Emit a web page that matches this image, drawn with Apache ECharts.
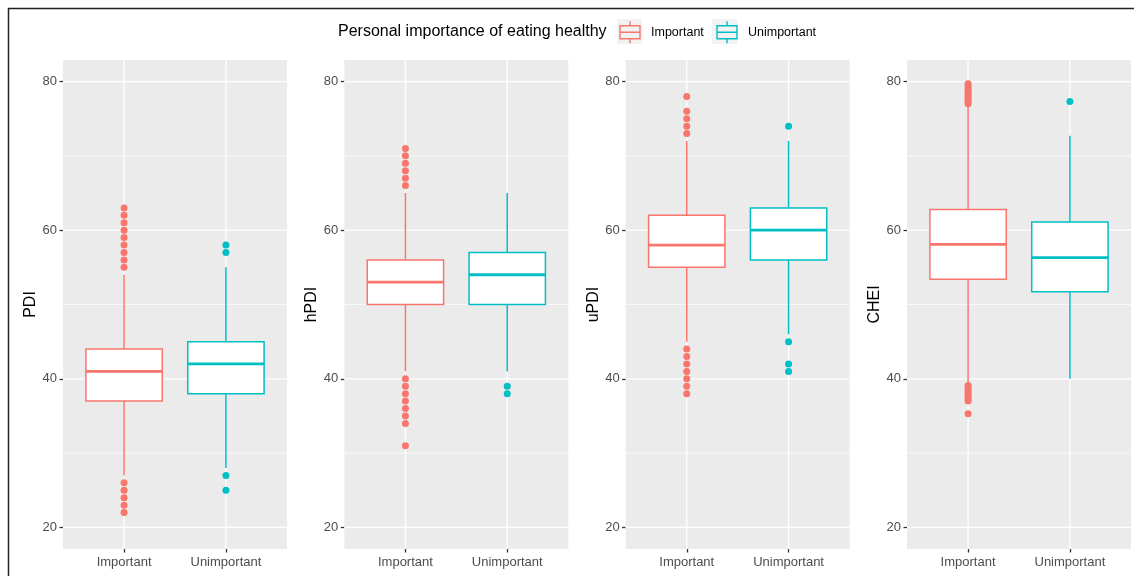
<!DOCTYPE html>
<html lang="en" style="height: 100%">
<head>
    <meta charset="utf-8">
    <script src="https://cdn.jsdelivr.net/npm/echarts/dist/echarts.min.js"></script>
</head>
<body style="height: 100%; margin: 0; background: #fff">
    <div id="container" style="width: 1134px; height: 576px;"></div>
    <script>
        var groups = ['Important', 'Unimportant'];
        var indexNames = ['PDI', 'hPDI', 'uPDI', 'CHEI'];
        var yMajorTicks = [20, 40, 60, 80];
        var yMinorTicks = [30, 50, 70];

        // lower whisker, Q1, median, Q3, upper whisker
        var importantBoxes = [
            [27, 37, 41, 44, 54],
            [41, 50, 53, 56, 65],
            [45, 55, 58, 62, 72],
            [39.5, 53.4, 58.1, 62.8, 76.8]
        ];
        var unimportantBoxes = [
            [28, 38, 42, 45, 55],
            [41, 50, 54, 57, 65],
            [46, 56, 60, 63, 72],
            [40, 51.7, 56.3, 61.1, 72.7]
        ];
        var importantOutliers = [
            [63, 62, 61, 60, 59, 58, 57, 56, 55, 26, 25, 24, 23, 22],
            [71, 70, 69, 68, 67, 66, 40, 39, 38, 37, 36, 35, 34, 31],
            [78, 76, 75, 74, 73, 44, 43, 42, 41, 40, 39, 38],
            [79.7, 79.4, 79.1, 78.8, 78.5, 78.2, 77.9, 77.6, 77.3, 77.0,
             39.1, 38.8, 38.5, 38.2, 37.9, 37.6, 37.3, 37.0, 35.3]
        ];
        var unimportantOutliers = [
            [58, 57, 27, 25],
            [39, 38],
            [74, 45, 42, 41],
            [77.3]
        ];

        var colors = ['#F8766D', '#00BFC4'];
        var font = 'Liberation Sans, Arial, sans-serif';
        var boxWidth = 0.75;

        function renderBox(params, api) {
            var x = api.value(0);
            var lo = api.coord([x, api.value(1)]);
            var q1 = api.coord([x, api.value(2)]);
            var med = api.coord([x, api.value(3)]);
            var q3 = api.coord([x, api.value(4)]);
            var hi = api.coord([x, api.value(5)]);
            var half = api.size([boxWidth, 0])[0] / 2;
            var color = api.visual('color');
            return {
                type: 'group',
                children: [
                    { type: 'line', shape: { x1: hi[0], y1: hi[1], x2: q3[0], y2: q3[1] }, style: { stroke: color, lineWidth: 1.5 } },
                    { type: 'line', shape: { x1: lo[0], y1: lo[1], x2: q1[0], y2: q1[1] }, style: { stroke: color, lineWidth: 1.5 } },
                    { type: 'rect', shape: { x: med[0] - half, y: q3[1], width: half * 2, height: q1[1] - q3[1] }, style: { fill: '#fff', stroke: color, lineWidth: 1.5 } },
                    { type: 'line', shape: { x1: med[0] - half, y1: med[1], x2: med[0] + half, y2: med[1] }, style: { stroke: color, lineWidth: 2.8 } }
                ]
            };
        }

        // panel grid lines drawn through the axis scales
        function renderGridLine(params, api) {
            var kind = api.value(2);
            var a, b;
            if (kind === 0) {
                a = api.coord([0.4, api.value(1)]);
                b = api.coord([2.6, api.value(1)]);
            } else {
                a = api.coord([api.value(0), 17.1]);
                b = api.coord([api.value(0), 82.9]);
            }
            return {
                type: 'line',
                shape: { x1: a[0], y1: a[1], x2: b[0], y2: b[1] },
                style: { stroke: '#fff', lineWidth: api.value(3) }
            };
        }

        var gridLineData = [];
        yMinorTicks.forEach(function (v) { gridLineData.push([1.5, v, 0, 0.7]); });
        yMajorTicks.forEach(function (v) { gridLineData.push([1.5, v, 0, 1.3]); });
        groups.forEach(function (g, i) { gridLineData.push([i + 1, 50, 1, 1.3]); });

        var grids = [], xAxes = [], yAxes = [], series = [];
        indexNames.forEach(function (name, p) {
            grids.push({
                left: 63 + p * 281.33, top: 60, width: 224, height: 489,
                show: true, backgroundColor: '#EBEBEB', borderWidth: 0
            });
            xAxes.push({
                gridIndex: p, type: 'value', min: 0.4, max: 2.6,
                axisLine: { show: false },
                splitLine: { show: false },
                axisTick: { show: true, length: 3.5, customValues: [1, 2], lineStyle: { color: '#333', width: 1.3 } },
                axisLabel: {
                    customValues: [1, 2], margin: 7, color: '#4D4D4D', fontSize: 13, fontFamily: font,
                    formatter: function (v) { return groups[Math.round(v) - 1]; }
                }
            });
            yAxes.push({
                gridIndex: p, type: 'value', min: 17.1, max: 82.9,
                name: name, nameLocation: 'middle', nameGap: 24, nameRotate: 90,
                nameTextStyle: { color: '#000', fontSize: 16, fontFamily: font },
                axisLine: { show: false },
                splitLine: { show: false },
                axisTick: { show: true, length: 3.5, customValues: yMajorTicks, lineStyle: { color: '#333', width: 1.3 } },
                axisLabel: { customValues: yMajorTicks, margin: 6, color: '#4D4D4D', fontSize: 13, fontFamily: font }
            });
            series.push({
                type: 'custom', xAxisIndex: p, yAxisIndex: p, silent: true, z: 1,
                renderItem: renderGridLine, data: gridLineData,
                encode: { x: 0, y: 1 }
            });
            var boxes = [importantBoxes[p], unimportantBoxes[p]];
            var outs = [importantOutliers[p], unimportantOutliers[p]];
            groups.forEach(function (g, i) {
                series.push({
                    name: g, type: 'custom', xAxisIndex: p, yAxisIndex: p, z: 2,
                    itemStyle: { color: colors[i] },
                    renderItem: renderBox,
                    encode: { x: 0, y: [1, 2, 3, 4, 5] },
                    data: [[i + 1].concat(boxes[i])]
                });
                series.push({
                    name: g, type: 'scatter', xAxisIndex: p, yAxisIndex: p, z: 3,
                    symbol: 'circle', symbolSize: 7,
                    itemStyle: { color: colors[i], opacity: 1 },
                    data: outs[i].map(function (v) { return [i + 1, v]; })
                });
            });
        });

        var keyIcon = 'path://M10,0 V4.5 M0,4.5 H20 V17.5 H0 Z M0,11 H20 M10,17.5 V22';

        var chart = echarts.init(document.getElementById('container'), null, { renderer: 'canvas' });
        chart.setOption({
            animation: false,
            title: {
                text: 'Personal importance of eating healthy',
                left: 338, top: 24, padding: 0,
                textStyle: { fontSize: 16, fontWeight: 'normal', color: '#000', fontFamily: font }
            },
            legend: {
                left: 619.3, top: 20.5, padding: 0,
                itemWidth: 20, itemHeight: 22, itemGap: 12.5,
                selectedMode: false,
                textStyle: { fontSize: 12.5, color: '#000', fontFamily: font, padding: [0, 0, 0, 6] },
                data: groups.map(function (g, i) {
                    return {
                        name: g, icon: keyIcon,
                        itemStyle: { color: 'rgba(0,0,0,0)', borderColor: colors[i], borderWidth: 1.4 }
                    };
                })
            },
            graphic: [
                { type: 'rect', shape: { x: 617, y: 19, width: 25, height: 25 }, style: { fill: '#F2F2F2' }, z: -1 },
                { type: 'rect', shape: { x: 712, y: 19, width: 25, height: 25 }, style: { fill: '#F2F2F2' }, z: -1 },
                { type: 'polyline', shape: { points: [[8.5, 576], [8.5, 8.5], [1134, 8.5]] }, style: { stroke: '#222', lineWidth: 1.5, fill: null } }
            ],
            grid: grids,
            xAxis: xAxes,
            yAxis: yAxes,
            series: series
        });
    </script>
</body>
</html>
